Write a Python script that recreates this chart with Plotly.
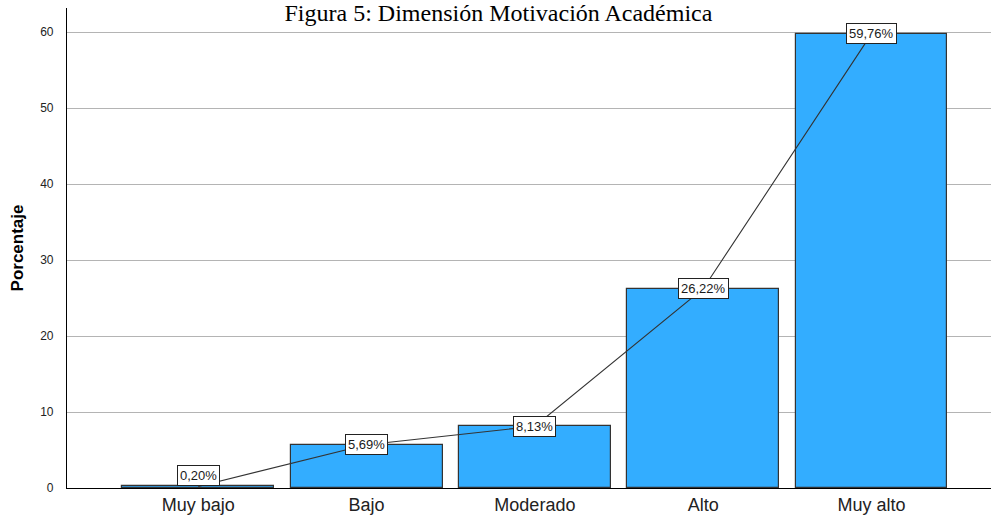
import plotly.graph_objects as go

# Categories and percentages
categories = ["Muy bajo", "Bajo", "Moderado", "Alto", "Muy alto"]
percentages = [0.20, 5.69, 8.13, 26.22, 59.76]
y_ticks = [0, 10, 20, 30, 40, 50, 60]
title_text = "Figura 5: Dimensión Motivación Académica"
y_title = "Porcentaje"

bar_color = "#33adff"
edge_color = "#333333"

x_idx = list(range(len(categories)))

fig = go.Figure()

fig.add_trace(go.Bar(
    x=x_idx,
    y=percentages,
    width=0.903,
    marker=dict(color=bar_color, line=dict(color=edge_color, width=1.2)),
    hoverinfo="skip",
))

fig.add_trace(go.Scatter(
    x=x_idx,
    y=percentages,
    mode="lines",
    line=dict(color="#333333", width=1.1),
    hoverinfo="skip",
))

# Value labels in boxes, centred on each point of the line
for i, v in zip(x_idx, percentages):
    label = f"{v:.2f}".replace(".", ",") + "%"
    fig.add_annotation(
        x=i, y=v, text=label, showarrow=False,
        font=dict(family="Arial, Liberation Sans, sans-serif", size=13, color="#1a1a1a"),
        bgcolor="white", bordercolor="#222222", borderwidth=1, borderpad=2,
        yshift=11 if v < 2 else 0,
    )

fig.update_layout(
    width=991, height=518,
    margin=dict(l=67, r=0, t=8, b=30),
    paper_bgcolor="white", plot_bgcolor="white",
    showlegend=False,
    bargap=0,
    font=dict(family="Arial, Liberation Sans, sans-serif", color="#222222"),
    title=dict(
        text=title_text,
        x=0.503, xanchor="center",
        y=1, yanchor="top", yref="container",
        pad=dict(t=4, b=0),
        font=dict(family="Liberation Serif, Times New Roman, serif", size=24, color="black"),
    ),
)

fig.update_xaxes(
    range=[-0.78, 4.71],
    tickmode="array", tickvals=x_idx, ticktext=categories,
    tickfont=dict(size=18, color="#222222"),
    showline=True, linecolor="black", linewidth=1.2,
    showgrid=False, ticks="", zeroline=False,
)

fig.update_yaxes(
    range=[0, 63.16],
    tickmode="array", tickvals=y_ticks,
    tickfont=dict(size=12, color="#222222"),
    showline=True, linecolor="black", linewidth=1.2,
    showgrid=True, gridcolor="#b4b4b4", gridwidth=1,
    ticks="", ticklabelstandoff=10, zeroline=False,
    title=dict(text="<b>" + y_title + "</b>", font=dict(size=17, color="black"), standoff=12),
)

fig.write_html("out.html")
